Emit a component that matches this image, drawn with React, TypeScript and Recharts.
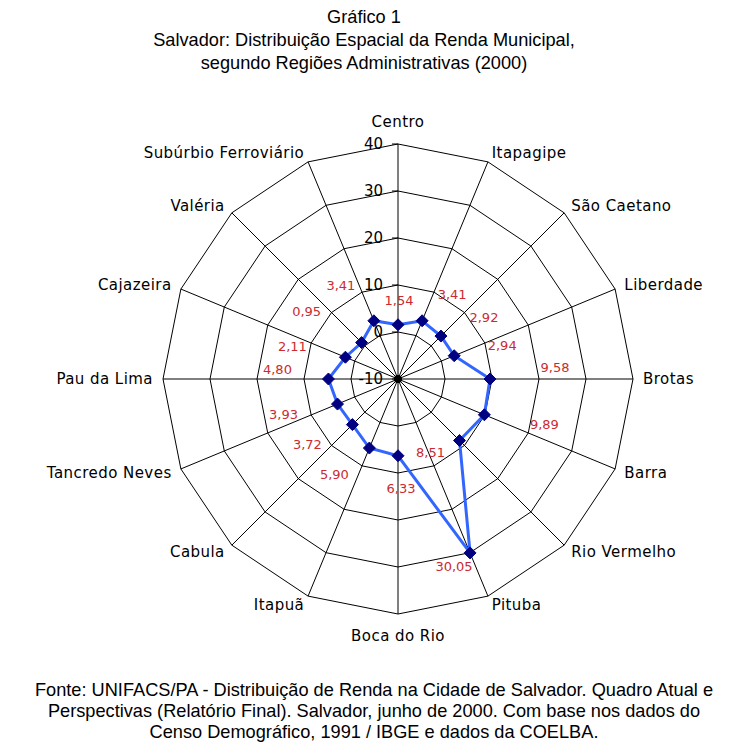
import React from "react";
import { RadarChart, Radar, PolarGrid, PolarAngleAxis, PolarRadiusAxis, LabelList } from "recharts";

const CATEGORIES = [
  "Centro", "Itapagipe", "São Caetano", "Liberdade", "Brotas", "Barra", "Rio Vermelho", "Pituba",
  "Boca do Rio", "Itapuã", "Cabula", "Tancredo Neves", "Pau da Lima", "Cajazeira", "Valéria", "Subúrbio Ferroviário",
];
const VALUES = [1.54, 3.41, 2.92, 2.94, 9.58, 9.89, 8.51, 30.05, 6.33, 5.9, 3.72, 3.93, 4.8, 2.11, 0.95, 3.41];
const RADIUS_TICKS = [-10, 0, 10, 20, 30, 40];

const TITLE_LINES = [
  "Gráfico 1",
  "Salvador: Distribuição Espacial da Renda Municipal,",
  "segundo Regiões Administrativas (2000)",
];
const FOOTER_LINES = [
  "Fonte: UNIFACS/PA - Distribuição de Renda na Cidade de Salvador. Quadro Atual e",
  "Perspectivas (Relatório Final). Salvador, junho de 2000. Com base nos dados do",
  "Censo Demográfico, 1991 / IBGE e dados da COELBA.",
];

// label nudges (px) relative to each plotted point
const LABEL_DX = [1, 30, 43, 48, 65, 60, -29, -16, 3, -35, -45, -54, -51, -53, -55, -33];
const LABEL_DY = [-24, -26, -19, -10, -12, 10, 12, 14, 33, 26, 20, 10, -10, -11, -31, -35];

const data = CATEGORIES.map((name, i) => ({ name, value: VALUES[i] }));

const W = 748;
const H = 753;
const CX = 398;
const CY = 379;
const R = 235;
const FONT = "'DejaVu Sans', Verdana, sans-serif";
const TITLE_FONT = "'Liberation Sans', Arial, Helvetica, sans-serif";

const fmt = (v: number) => v.toFixed(2).replace(".", ",");

const AngleTick = (props: any) => {
  const { x, y, payload } = props;
  const dx = x - CX;
  const dy = y - CY;
  const d = Math.sqrt(dx * dx + dy * dy) || 1;
  const ux = dx / d;
  const uy = dy / d;
  let anchor: "start" | "end" | "middle" = "middle";
  if (ux > 0.01) anchor = "start";
  else if (ux < -0.01) anchor = "end";
  const off = anchor === "middle" ? 22 : 10;
  const px = CX + ux * (R + off);
  const py = CY + uy * (R + off);
  return (
    <text
      x={px}
      y={py}
      textAnchor={anchor}
      dominantBaseline="central"
      fontFamily={FONT}
      fontSize={15}
      letterSpacing={0.45}
      fill="#000"
    >
      {payload.value}
    </text>
  );
};

const RadiusTick = (props: any) => {
  const { x, y, payload } = props;
  return (
    <g>
      {payload.value === RADIUS_TICKS[0] ? <circle cx={x} cy={y} r={4} fill="#000" /> : null}
      <line x1={x - 6} y1={y} x2={x} y2={y} stroke="#000" strokeWidth={1} />
      <text
        x={x - 15}
        y={y}
        textAnchor="end"
        dominantBaseline="central"
        fontFamily={FONT}
        fontSize={15}
        fill="#000"
      >
        {payload.value}
      </text>
    </g>
  );
};

const Diamond = (props: any) => {
  const { cx, cy, index } = props;
  const s = 6;
  return (
    <path
      key={`d-${index}`}
      d={`M${cx},${cy - s}L${cx + s},${cy}L${cx},${cy + s}L${cx - s},${cy}Z`}
      fill="#000080"
      stroke="#000080"
    />
  );
};

const ValueLabel = (props: any) => {
  const { x, y, value, index } = props;
  return (
    <text
      x={x + LABEL_DX[index]}
      y={y + LABEL_DY[index]}
      textAnchor="middle"
      dominantBaseline="central"
      fontFamily={FONT}
      fontSize={13}
      fill="#cc2a30"
    >
      {fmt(value)}
    </text>
  );
};

const lineStyle = (top: number): React.CSSProperties => ({
  position: "absolute",
  left: 0,
  width: W,
  top,
  textAlign: "center",
  fontFamily: TITLE_FONT,
  fontSize: 18.2,
  lineHeight: "22px",
  color: "#000",
  whiteSpace: "nowrap",
});

export default function App() {
  return (
    <div style={{ position: "absolute", left: 0, top: 0, width: W, height: H, background: "#fff", overflow: "hidden" }}>
      {TITLE_LINES.map((t, i) => (
        <div key={t} style={{ ...lineStyle(6 + i * 23), left: -10 }}>{t}</div>
      ))}
      <div style={{ position: "absolute", left: 0, top: 0 }}>
        <RadarChart width={W} height={H} cx={CX} cy={CY} outerRadius={R} innerRadius={0} data={data} startAngle={90} endAngle={-270}>
          <PolarGrid gridType="polygon" stroke="#000" strokeOpacity={1} strokeWidth={1} />
          <PolarAngleAxis dataKey="name" tick={<AngleTick />} tickLine={false} axisLine={false} />
          <PolarRadiusAxis
            angle={90}
            domain={[-10, 40]}
            ticks={RADIUS_TICKS}
            tickCount={6}
            tick={<RadiusTick />}
            axisLine={false}
            allowDataOverflow
          />
          <Radar
            dataKey="value"
            stroke="#3366ff"
            strokeWidth={3}
            fill="none"
            fillOpacity={0}
            dot={Diamond}
            isAnimationActive={false}
          >
            <LabelList dataKey="value" content={<ValueLabel />} />
          </Radar>
        </RadarChart>
      </div>
      {FOOTER_LINES.map((t, i) => (
        <div key={t} style={lineStyle(679 + i * 21)}>{t}</div>
      ))}
    </div>
  );
}
